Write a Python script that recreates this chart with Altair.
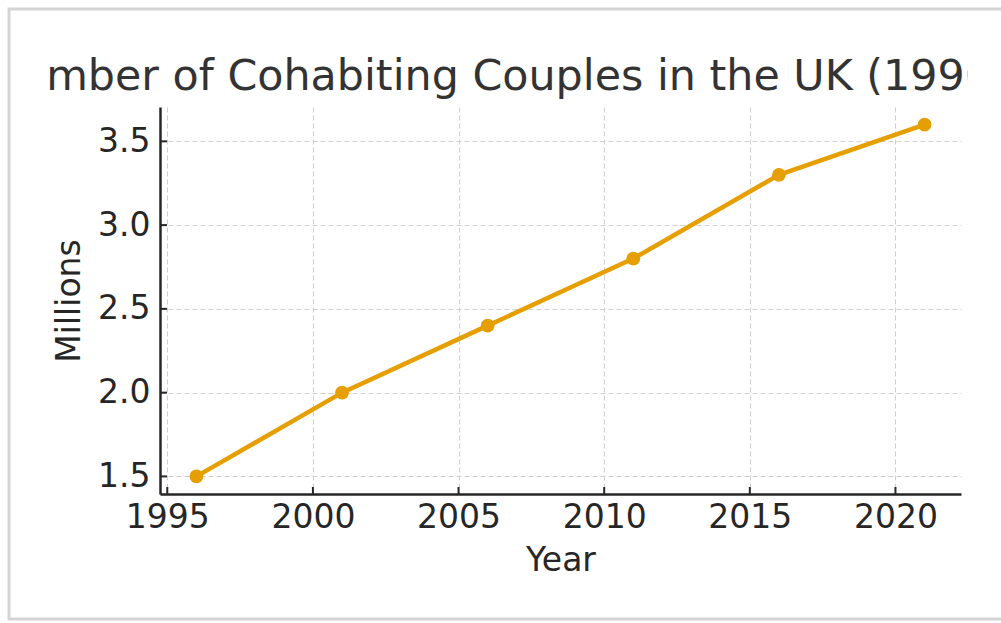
import altair as alt
import pandas as pd

# Cohabiting couples in the UK, millions
years = [1996, 2001, 2006, 2011, 2016, 2021]
millions = [1.5, 2.0, 2.4, 2.8, 3.3, 3.6]

x_ticks = [1995, 2000, 2005, 2010, 2015, 2020]
y_ticks = [1.5, 2.0, 2.5, 3.0, 3.5]
title_text = "Number of Cohabiting Couples in the UK (1996-2021)"

W, H = 801, 387
FONT = "DejaVu Sans"
LINE_COLOR = "#E69F00"
INK = "#262626"

df = pd.DataFrame({"Year": years, "Millions": millions})
xt = pd.DataFrame({"Year": x_ticks})
yt = pd.DataFrame({"Millions": y_ticks})

x_scale = alt.Scale(domain=[1994.75, 2022.25], nice=False, zero=False)
y_scale = alt.Scale(domain=[1.395, 3.705], nice=False, zero=False)

common_axis = dict(
    grid=True, gridColor="#cfcfcf", gridDash=[5, 3], gridWidth=1,
    ticks=False, domainColor=INK, domainWidth=2.5,
    labelFont=FONT, labelFontSize=33, labelColor=INK, labelFlush=False,
    titleFont=FONT, titleFontSize=33, titleFontWeight="normal", titleColor=INK,
)

x_axis = alt.Axis(values=x_ticks, format="d", title="Year",
                  labelPadding=7, titlePadding=10, **common_axis)
y_axis = alt.Axis(values=y_ticks, format=".1f", title="Millions",
                  labelPadding=10, titlePadding=11, **common_axis)

X = alt.X("Year:Q", scale=x_scale, axis=x_axis)
Y = alt.Y("Millions:Q", scale=y_scale, axis=y_axis)

one_row = alt.Data(values=[{"t": title_text}])

line = alt.Chart(df).mark_line(color=LINE_COLOR, strokeWidth=4.5).encode(x=X, y=Y)
points = alt.Chart(df).mark_point(
    filled=True, color=LINE_COLOR, size=190, opacity=1
).encode(x=X, y=Y)

# inward-facing tick marks
x_tick_marks = alt.Chart(xt).mark_rule(color=INK, strokeWidth=2).encode(
    x=X, y=alt.value(H), y2=alt.value(H - 7),
)
y_tick_marks = alt.Chart(yt).mark_rule(color=INK, strokeWidth=2).encode(
    y=Y, x=alt.value(0), x2=alt.value(7),
)

title = alt.Chart(one_row).mark_text(
    font=FONT, fontSize=42.8, color="#333333", align="center", baseline="alphabetic"
).encode(text="t:N", x=alt.value(400), y=alt.value(-17))

# the title is wider than the figure and gets cut at both sides
mask_left = alt.Chart(one_row).mark_rect(color="white", opacity=1).encode(
    x=alt.value(-200), x2=alt.value(-115), y=alt.value(-80), y2=alt.value(-3),
)
mask_right = alt.Chart(one_row).mark_rect(color="white", opacity=1).encode(
    x=alt.value(808), x2=alt.value(870), y=alt.value(-80), y2=alt.value(-3),
)

# outer frame
frame = alt.Chart(one_row).mark_rect(
    filled=False, stroke="#d4d4d4", strokeWidth=3
).encode(
    x=alt.value(-151), x2=alt.value(860),
    y=alt.value(-98), y2=alt.value(512),
)

chart = alt.layer(
    line, x_tick_marks, y_tick_marks, points, title, mask_left, mask_right, frame
).properties(
    width=W, height=H,
    autosize=alt.AutoSizeParams(type="none"),
    padding={"left": 160, "top": 107, "right": 40, "bottom": 129},
).configure_view(stroke=None)

chart.save("out.html", embed_options={"renderer": "svg", "actions": False})
